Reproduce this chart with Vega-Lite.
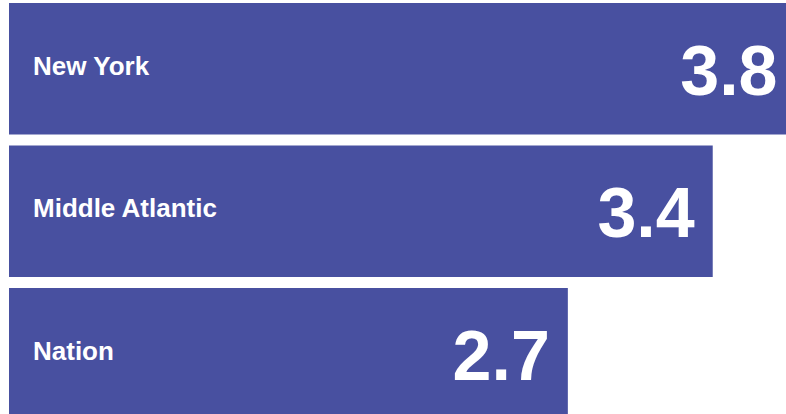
{
  "$schema": "https://vega.github.io/schema/vega-lite/v6.json",
  "width": 777,
  "height": 411,
  "autosize": {"type": "none"},
  "padding": {"left": 9, "top": 3, "right": 0, "bottom": 0},
  "background": "white",
  "config": {"view": {"stroke": null}},
  "data": {"values": [
    {"region": "New York", "value": 3.8},
    {"region": "Middle Atlantic", "value": 3.4},
    {"region": "Nation", "value": 2.7}
  ]},
  "encoding": {
    "y": {"field": "region", "type": "nominal", "sort": null, "axis": null,
      "scale": {"range": [0, 416.5], "paddingInner": 0.077, "paddingOuter": 0}}
  },
  "layer": [
    {"mark": {"type": "bar", "color": "#4850a0", "clip": true},
     "encoding": {"x": {"field": "value", "type": "quantitative", "axis": null,
        "scale": {"domain": [0, 3.754], "nice": false, "zero": true}}}},
    {"mark": {"type": "text", "align": "left", "baseline": "middle", "dx": 24, "dy": -2, "font": "Liberation Sans", "fontWeight": "bold", "fontSize": 26, "color": "white"},
     "encoding": {"x": {"datum": 0, "type": "quantitative"}, "text": {"field": "region"}}},
    {"mark": {"type": "text", "align": "right", "baseline": "middle", "dx": -18, "dy": 5, "font": "Liberation Sans", "fontWeight": "bold", "fontSize": 70, "color": "white"},
     "encoding": {"x": {"field": "value", "type": "quantitative"}, "text": {"field": "value", "format": ".1f"}}}
  ]
}
